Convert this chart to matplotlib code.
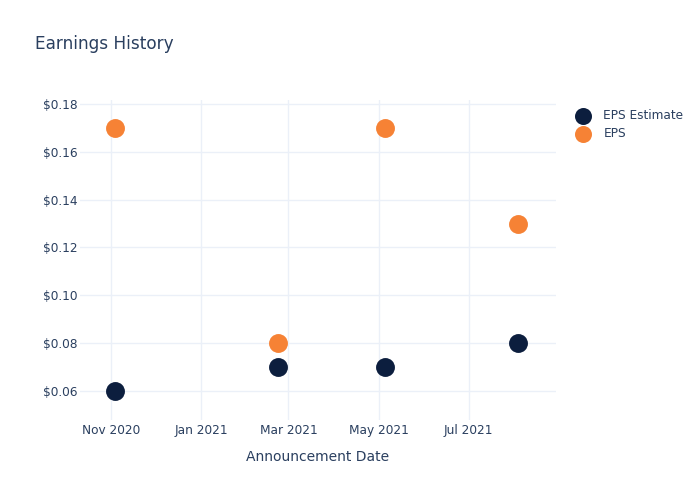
import matplotlib
matplotlib.use("Agg")
import matplotlib.pyplot as plt
import matplotlib.dates as mdates
from matplotlib.ticker import FuncFormatter
import pandas as pd

# Data
dates = pd.to_datetime(["2020-11-04", "2021-02-22", "2021-05-05", "2021-08-03"])
eps_estimate = [0.06, 0.07, 0.07, 0.08]
eps_actual = [0.17, 0.08, 0.17, 0.13]

text_color = "#2a3f5f"
grid_color = "#ebf0f8"
navy = "#0c1e3e"
orange = "#f68235"

plt.rcParams["font.family"] = ["DejaVu Sans"]

fig = plt.figure(figsize=(7, 5), dpi=100)
ax = fig.add_axes([80 / 700, 80 / 500, 476 / 700, 320 / 500])

ax.scatter(dates, eps_estimate, s=185, color=navy, label="EPS Estimate", zorder=3, linewidths=0)
ax.scatter(dates, eps_actual, s=185, color=orange, label="EPS", zorder=3, linewidths=0)

# Axis ranges
ax.set_xlim(pd.Timestamp("2020-10-11"), pd.Timestamp("2021-08-29"))
ax.set_ylim(0.04787, 0.18167)

ax.xaxis.set_major_locator(mdates.MonthLocator(bymonth=[1, 3, 5, 7, 9, 11]))
ax.xaxis.set_major_formatter(mdates.DateFormatter("%b %Y"))
ax.set_yticks([0.06, 0.08, 0.10, 0.12, 0.14, 0.16, 0.18])
ax.yaxis.set_major_formatter(FuncFormatter(lambda v, p: "$%.2f" % v))

for s in ax.spines.values():
    s.set_visible(False)
ax.grid(True, color=grid_color, linewidth=1)
ax.set_axisbelow(True)
ax.tick_params(length=0, labelsize=8.7, colors=text_color)
ax.tick_params(axis="x", pad=3)
ax.tick_params(axis="y", pad=1.5)

ax.set_xlabel("Announcement Date", fontsize=10, color=text_color, labelpad=9)

fig.text(35 / 700, 1 - 44 / 500, "Earnings History", fontsize=12.2,
         color=text_color, va="center", ha="left")

fig.legend(loc="upper left", bbox_to_anchor=(566 / 700, 1 - 104 / 500),
           frameon=False, fontsize=8.7, labelcolor=text_color,
           handletextpad=0.7, labelspacing=0.45, markerscale=0.9,
           borderaxespad=0)

fig.savefig("out.png", dpi=100, facecolor="white")
